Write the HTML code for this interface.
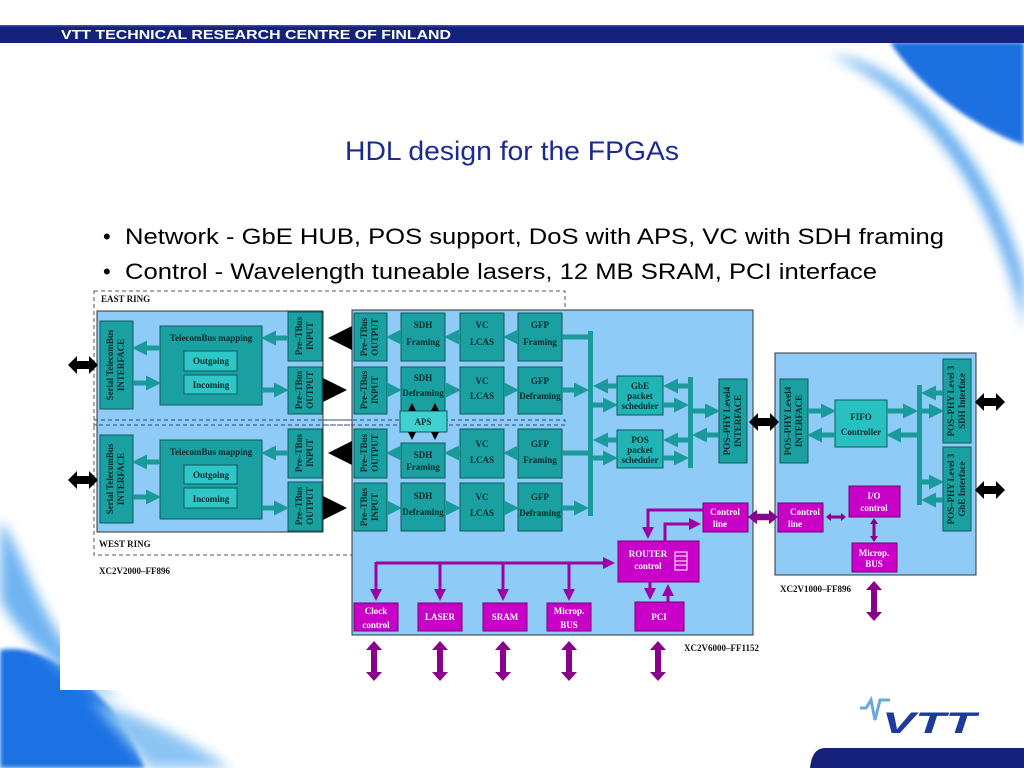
<!DOCTYPE html>
<html><head><meta charset="utf-8"><style>
html,body{margin:0;padding:0;background:#fff;}
body{width:1024px;height:768px;overflow:hidden;position:relative;font-family:"Liberation Sans",sans-serif;}
svg{position:absolute;left:0;top:0;}
.d{font-family:"Liberation Serif",serif;font-weight:bold;font-size:9px;}
</style></head><body>
<svg width="1024" height="768" viewBox="0 0 1024 768" xmlns="http://www.w3.org/2000/svg">
<defs>
<filter id="bl" x="-50%" y="-50%" width="200%" height="200%"><feGaussianBlur stdDeviation="6"/></filter>
<filter id="bl2" x="-50%" y="-50%" width="200%" height="200%"><feGaussianBlur stdDeviation="2"/></filter>
<marker id="ta" markerWidth="3" markerHeight="3" refX="2" refY="1.5" orient="auto" markerUnits="strokeWidth"><path d="M0,0 L3,1.5 L0,3 z" fill="#1a9a9a"/></marker>
<marker id="pa" markerWidth="4" markerHeight="4" refX="3" refY="2" orient="auto" markerUnits="strokeWidth"><path d="M0,0 L4,2 L0,4 z" fill="#a000a8"/></marker>
<marker id="ka" markerWidth="4" markerHeight="4" refX="3" refY="2" orient="auto" markerUnits="strokeWidth"><path d="M0,0 L4,2 L0,4 z" fill="#000"/></marker>
<path id="vd" d="M0,-20 L8,-11 L3,-11 L3,11 L8,11 L0,20 L-8,11 L-3,11 L-3,-11 L-8,-11 Z"/>
<path id="hd" d="M-15,0 L-6,-9 L-6,-4 L6,-4 L6,-9 L15,0 L6,9 L6,4 L-6,4 L-6,9 Z"/>
<path id="hs" d="M-10,0 L-5,-4 L-5,-1.5 L5,-1.5 L5,-4 L10,0 L5,4 L5,1.5 L-5,1.5 L-5,4 Z"/>
</defs>
<!-- swooshes -->
<path d="M890,42 C920,90 980,130 1024,145 L1024,42 Z" fill="#1f6fe0" filter="url(#bl2)"/>
<path d="M830,55 C900,60 990,150 1024,280 L1024,330 C1000,200 920,90 830,55 Z" fill="#5aa6ef" filter="url(#bl)"/>
<path d="M0,650 C50,640 120,700 145,768 L0,768 Z" fill="#1f72e3" filter="url(#bl2)"/>
<path d="M0,520 C30,560 40,640 120,700 C80,690 20,640 0,600 Z" fill="#6fb4f2" filter="url(#bl)"/>
<path d="M90,700 C150,720 190,740 230,768 L150,768 Z" fill="#8cc4f4" filter="url(#bl)"/>
<rect x="60" y="288" width="712" height="402" fill="#fff"/>
<!-- header -->
<rect x="0" y="26" width="1024" height="17" fill="#14227c"/>
<rect x="0" y="25" width="1024" height="1.5" fill="#3a4ab0"/>
<text x="61" y="39" fill="#fff" font-family="Liberation Sans" font-weight="bold" font-size="13" textLength="390" lengthAdjust="spacingAndGlyphs">VTT TECHNICAL RESEARCH CENTRE OF FINLAND</text>
<text x="345" y="160" fill="#1a2a90" font-family="Liberation Sans" font-size="27" textLength="334" lengthAdjust="spacingAndGlyphs">HDL design for the FPGAs</text>
<text x="103" y="244" fill="#000" font-family="Liberation Sans" font-size="22">•</text>
<text x="125" y="244" fill="#000" font-family="Liberation Sans" font-size="22" textLength="819" lengthAdjust="spacingAndGlyphs">Network - GbE HUB, POS support, DoS with APS, VC with SDH framing</text>
<text x="103" y="279" fill="#000" font-family="Liberation Sans" font-size="22">•</text>
<text x="125" y="279" fill="#000" font-family="Liberation Sans" font-size="22" textLength="752" lengthAdjust="spacingAndGlyphs">Control - Wavelength tuneable lasers, 12 MB SRAM, PCI interface</text>
<!-- footer -->
<path d="M825,748 L1024,748 L1024,768 L810,768 Q812,748 825,748 Z" fill="#14227c"/>
<path d="M860,708 L866,708 L871,700 L875,720 L880,700 L890,700" stroke="#6aa8e0" stroke-width="3" fill="none"/>
<text x="882" y="733" fill="#1d3a9a" font-family="Liberation Sans" font-weight="bold" font-style="italic" font-size="30" textLength="94" lengthAdjust="spacingAndGlyphs">VTT</text>

<!-- dashed ring boxes -->
<rect x="94" y="291" width="471" height="129" fill="none" stroke="#555" stroke-dasharray="4,3" stroke-width="1"/>
<rect x="94" y="425" width="471" height="130" fill="none" stroke="#555" stroke-dasharray="4,3" stroke-width="1"/>
<!-- chips -->
<rect x="97" y="311" width="226" height="221" fill="#8ecbf6" stroke="#333" stroke-width="1"/>
<rect x="352" y="310" width="401" height="325" fill="#8ecbf6" stroke="#333" stroke-width="1"/>
<rect x="775" y="353" width="201" height="222" fill="#8ecbf6" stroke="#333" stroke-width="1"/>
<rect x="94" y="420" width="471" height="5" fill="none" stroke="#2a4a7a" stroke-dasharray="4,3" stroke-width="1"/>
<text x="101" y="302" class="d" fill="#111">EAST RING</text>
<text x="99" y="547" class="d" fill="#111">WEST RING</text>
<text x="99" y="574" class="d" fill="#111" font-weight="normal">XC2V2000–FF896</text>
<text x="780" y="592" class="d" fill="#111" font-weight="normal">XC2V1000–FF896</text>
<text x="684" y="651" class="d" fill="#111" font-weight="normal">XC2V6000–FF1152</text>

<g stroke="#0f5a5a" stroke-width="1" fill="#1aa0a0">
<rect x="100" y="321" width="33" height="88"/><rect x="100" y="435" width="33" height="88"/>
<rect x="160" y="326" width="102" height="79"/><rect x="160" y="440" width="102" height="79"/>
<rect x="288" y="312" width="34" height="49"/><rect x="288" y="367" width="34" height="47"/>
<rect x="288" y="429" width="34" height="49"/><rect x="288" y="482" width="34" height="49"/>
<rect x="354" y="313" width="33" height="48"/><rect x="354" y="367" width="33" height="47"/>
<rect x="354" y="429" width="33" height="49"/><rect x="354" y="483" width="33" height="48"/>
<rect x="401" y="313" width="44" height="48"/><rect x="401" y="367" width="44" height="47"/>
<rect x="401" y="443" width="44" height="35"/><rect x="401" y="483" width="44" height="48"/>
<rect x="460" y="313" width="44" height="48"/><rect x="460" y="367" width="44" height="47"/>
<rect x="460" y="429" width="44" height="49"/><rect x="460" y="483" width="44" height="48"/>
<rect x="518" y="313" width="44" height="48"/><rect x="518" y="367" width="44" height="47"/>
<rect x="518" y="429" width="44" height="49"/><rect x="518" y="483" width="44" height="48"/>
<rect x="617" y="376" width="46" height="39" fill="#20b4b4"/><rect x="617" y="430" width="46" height="38" fill="#20b4b4"/>
<rect x="719" y="379" width="28" height="84"/>
<rect x="780" y="379" width="28" height="84"/>
<rect x="835" y="400" width="52" height="47" fill="#28c0c0"/>
<rect x="943" y="359" width="28" height="84"/><rect x="943" y="447" width="28" height="84"/>
</g>
<g stroke="#0f5a5a" stroke-width="1" fill="#2ec6c6">
<rect x="184" y="351" width="53" height="20"/><rect x="184" y="375" width="53" height="19"/>
<rect x="184" y="465" width="53" height="19"/><rect x="184" y="488" width="53" height="20"/>
<rect x="400" y="411" width="47" height="21" fill="#3fd0d0"/>
</g>
<rect x="588" y="331" width="5" height="185" fill="#1a9a9a"/>
<rect x="688" y="377" width="5" height="91" fill="#1a9a9a"/>
<rect x="917" y="385" width="5" height="120" fill="#1a9a9a"/>
<g stroke="#1a9a9a" stroke-width="5" marker-end="url(#ta)">
<line x1="160" y1="348" x2="137" y2="348"/><line x1="133" y1="383" x2="156" y2="383"/>
<line x1="160" y1="462" x2="137" y2="462"/><line x1="133" y1="497" x2="156" y2="497"/>
<line x1="288" y1="338" x2="266" y2="338"/><line x1="262" y1="390" x2="284" y2="390"/>
<line x1="288" y1="453" x2="266" y2="453"/><line x1="262" y1="508" x2="284" y2="508"/>
<line x1="401" y1="337" x2="391" y2="337"/><line x1="387" y1="390" x2="397" y2="390"/>
<line x1="401" y1="453" x2="391" y2="453"/><line x1="387" y1="508" x2="397" y2="508"/>
<line x1="460" y1="337" x2="449" y2="337"/><line x1="445" y1="390" x2="456" y2="390"/>
<line x1="460" y1="453" x2="449" y2="453"/><line x1="445" y1="508" x2="456" y2="508"/>
<line x1="518" y1="337" x2="508" y2="337"/><line x1="504" y1="390" x2="514" y2="390"/>
<line x1="518" y1="453" x2="508" y2="453"/><line x1="504" y1="508" x2="514" y2="508"/>
<line x1="562" y1="390" x2="584" y2="390"/><line x1="562" y1="508" x2="584" y2="508"/>
<line x1="617" y1="386" x2="598" y2="386"/><line x1="593" y1="405" x2="613" y2="405"/>
<line x1="617" y1="440" x2="598" y2="440"/><line x1="593" y1="458" x2="613" y2="458"/>
<line x1="688" y1="386" x2="668" y2="386"/><line x1="663" y1="405" x2="684" y2="405"/>
<line x1="688" y1="440" x2="668" y2="440"/><line x1="663" y1="458" x2="684" y2="458"/>
<line x1="693" y1="411" x2="715" y2="411"/><line x1="719" y1="435" x2="697" y2="435"/>
<line x1="808" y1="411" x2="831" y2="411"/><line x1="835" y1="435" x2="812" y2="435"/>
<line x1="887" y1="411" x2="913" y2="411"/><line x1="917" y1="435" x2="891" y2="435"/>
<line x1="943" y1="393" x2="926" y2="393"/><line x1="922" y1="411" x2="939" y2="411"/>
<line x1="922" y1="482" x2="939" y2="482"/><line x1="943" y1="500" x2="926" y2="500"/>
</g>
<g stroke="#1a9a9a" stroke-width="5">
<line x1="562" y1="337" x2="588" y2="337"/><line x1="562" y1="453" x2="588" y2="453"/>
</g>
<g stroke="#000" stroke-width="6">
<line x1="352" y1="338" x2="334" y2="338" marker-end="url(#ka)"/>
<line x1="323" y1="390" x2="341" y2="390" marker-end="url(#ka)"/>
<line x1="352" y1="453" x2="334" y2="453" marker-end="url(#ka)"/>
<line x1="323" y1="508" x2="341" y2="508" marker-end="url(#ka)"/>
</g>
<g fill="#000">
<use href="#hd" transform="translate(83,365)"/>
<use href="#hd" transform="translate(83,480)"/>
<use href="#hd" transform="translate(764,422)"/>
<use href="#hd" transform="translate(990,402)"/>
<use href="#hd" transform="translate(990,490)"/>
</g>
<g stroke="#000" stroke-width="2" marker-end="url(#ka)">
<line x1="412" y1="410" x2="412" y2="405"/><line x1="435" y1="410" x2="435" y2="405"/>
<line x1="412" y1="433" x2="412" y2="438"/><line x1="435" y1="433" x2="435" y2="438"/>
</g>
<g fill="#c800c8" stroke="#7a007a" stroke-width="1">
<rect x="354" y="603" width="44" height="28"/><rect x="418" y="603" width="44" height="28"/>
<rect x="483" y="603" width="44" height="28"/><rect x="547" y="603" width="44" height="28"/>
<rect x="635" y="602" width="49" height="29"/><rect x="618" y="541" width="81" height="41"/>
<rect x="703" y="503" width="45" height="29"/><rect x="778" y="503" width="45" height="29"/>
<rect x="849" y="486" width="51" height="31"/><rect x="852" y="543" width="45" height="29"/>
</g>
<g fill="none" stroke="#fff" stroke-width="1"><rect x="675" y="552" width="12" height="18"/><line x1="675" y1="556" x2="687" y2="556"/><line x1="675" y1="561" x2="687" y2="561"/><line x1="675" y1="565" x2="687" y2="565"/></g>
<g stroke="#a000a8" stroke-width="3" fill="none">
<polyline points="376,563 612,563" marker-end="url(#pa)"/>
<line x1="440" y1="563" x2="440" y2="598" marker-end="url(#pa)"/>
<line x1="503" y1="563" x2="503" y2="598" marker-end="url(#pa)"/>
<line x1="569" y1="563" x2="569" y2="598" marker-end="url(#pa)"/>
<line x1="376" y1="562" x2="376" y2="598" marker-end="url(#pa)"/>
<polyline points="703,510 648,510 648,536" marker-end="url(#pa)"/>
<polyline points="665,541 665,524 698,524" marker-end="url(#pa)"/>
<line x1="650" y1="582" x2="650" y2="597" marker-end="url(#pa)"/>
<line x1="668" y1="602" x2="668" y2="587" marker-end="url(#pa)"/>
</g>
<g fill="#8a008a">
<use href="#hs" transform="translate(836,517)"/>
<use href="#hs" transform="translate(874,530) rotate(90) scale(1.2,1)"/>
<use href="#hd" transform="translate(763,517) scale(1,0.8)"/>
<use href="#vd" transform="translate(374,661)"/>
<use href="#vd" transform="translate(440,661)"/>
<use href="#vd" transform="translate(503,661)"/>
<use href="#vd" transform="translate(569,661)"/>
<use href="#vd" transform="translate(658,661)"/>
<use href="#vd" transform="translate(874,601)"/>
</g>
<g class="d" fill="#062a2a" text-anchor="middle">
<text x="211" y="341">TelecomBus mapping</text><text x="211" y="455">TelecomBus mapping</text>
<text x="211" y="364">Outgoing</text><text x="211" y="388">Incoming</text>
<text x="211" y="478">Outgoing</text><text x="211" y="502">Incoming</text>
<text x="423" y="328">SDH</text><text x="423" y="345">Framing</text>
<text x="423" y="381">SDH</text><text x="423" y="396">Deframing</text>
<text x="423" y="458">SDH</text><text x="423" y="470">Framing</text>
<text x="423" y="499">SDH</text><text x="423" y="515">Deframing</text>
<text x="482" y="328">VC</text><text x="482" y="345">LCAS</text>
<text x="482" y="384">VC</text><text x="482" y="399">LCAS</text>
<text x="482" y="447">VC</text><text x="482" y="463">LCAS</text>
<text x="482" y="500">VC</text><text x="482" y="516">LCAS</text>
<text x="540" y="328">GFP</text><text x="540" y="345">Framing</text>
<text x="540" y="384">GFP</text><text x="540" y="399">Deframing</text>
<text x="540" y="447">GFP</text><text x="540" y="463">Framing</text>
<text x="540" y="500">GFP</text><text x="540" y="516">Deframing</text>
<text x="423" y="425">APS</text>
<text x="640" y="389">GbE</text><text x="640" y="399">packet</text><text x="640" y="409">scheduler</text>
<text x="640" y="443">POS</text><text x="640" y="453">packet</text><text x="640" y="463">scheduler</text>
<text x="861" y="420">FIFO</text><text x="861" y="435">Controller</text>
</g>
<g class="d" fill="#062a2a" text-anchor="middle">
<g transform="translate(116,365) rotate(-90)"><text y="-3">Serial TelecomBus</text><text y="8">INTERFACE</text></g>
<g transform="translate(116,479) rotate(-90)"><text y="-3">Serial TelecomBus</text><text y="8">INTERFACE</text></g>
<g transform="translate(305,336) rotate(-90)"><text y="-3">Pre–TBus</text><text y="8">INPUT</text></g>
<g transform="translate(305,390) rotate(-90)"><text y="-3">Pre–TBus</text><text y="8">OUTPUT</text></g>
<g transform="translate(305,453) rotate(-90)"><text y="-3">Pre–TBus</text><text y="8">INPUT</text></g>
<g transform="translate(305,506) rotate(-90)"><text y="-3">Pre–TBus</text><text y="8">OUTPUT</text></g>
<g transform="translate(370,337) rotate(-90)"><text y="-3">Pre–TBus</text><text y="8">OUTPUT</text></g>
<g transform="translate(370,390) rotate(-90)"><text y="-3">Pre–TBus</text><text y="8">INPUT</text></g>
<g transform="translate(370,453) rotate(-90)"><text y="-3">Pre–TBus</text><text y="8">OUTPUT</text></g>
<g transform="translate(370,507) rotate(-90)"><text y="-3">Pre–TBus</text><text y="8">INPUT</text></g>
<g transform="translate(733,421) rotate(-90)"><text y="-3">POS–PHY Level4</text><text y="8">INTERFACE</text></g>
<g transform="translate(794,421) rotate(-90)"><text y="-3">POS–PHY Level4</text><text y="8">INTERFACE</text></g>
<g transform="translate(957,401) rotate(-90)"><text y="-3">POS–PHY Level 3</text><text y="8">SDH Interface</text></g>
<g transform="translate(957,489) rotate(-90)"><text y="-3">POS–PHY Level 3</text><text y="8">GbE Interface</text></g>
</g>
<g class="d" fill="#fff" text-anchor="middle">
<text x="376" y="614">Clock</text><text x="376" y="628">control</text>
<text x="440" y="620">LASER</text><text x="505" y="620">SRAM</text>
<text x="569" y="614">Microp.</text><text x="569" y="628">BUS</text>
<text x="659" y="620">PCI</text>
<text x="648" y="557">ROUTER</text><text x="648" y="569">control</text>
<text x="725" y="515">Control</text><text x="720" y="527">line</text>
<text x="805" y="515">Control</text><text x="795" y="527">line</text>
<text x="874" y="499">I/O</text><text x="874" y="511">control</text>
<text x="874" y="556">Microp.</text><text x="874" y="567">BUS</text>
</g>
</svg>
</body></html>
